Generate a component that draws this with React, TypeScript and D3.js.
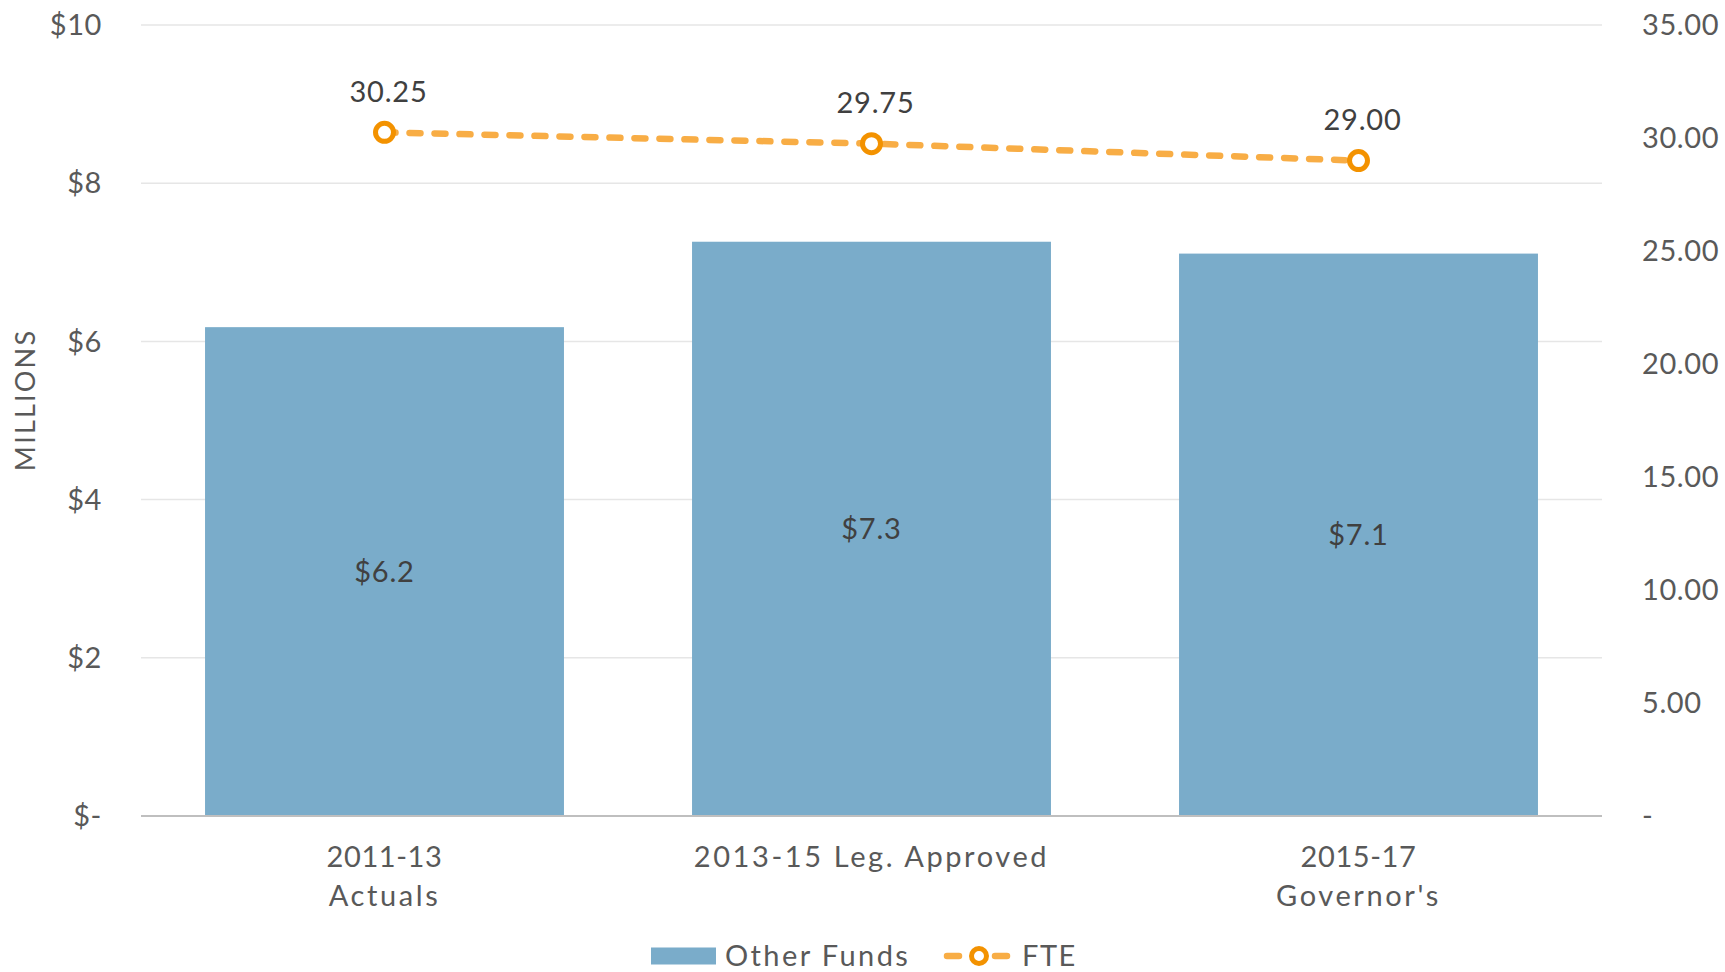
import React, { useEffect, useRef } from 'react';
import * as d3 from 'd3';

const categories = [['2011-13', 'Actuals'], ['2013-15 Leg. Approved'], ['2015-17', "Governor's"]];
const otherFunds = [6.18, 7.26, 7.11];
const fundLabels = ['$6.2', '$7.3', '$7.1'];
const fte = [30.25, 29.75, 29.0];
const leftTicks = [0, 2, 4, 6, 8, 10];
const rightTicks = [0, 5, 10, 15, 20, 25, 30, 35];

const FONT = "'Century Gothic', Lato, 'Open Sans', sans-serif";
const BAR = '#7AACCA';
const LINE = '#F8AD45';
const MARK = '#F39200';
const TEXT = '#595959';

// Lato is narrower than the original face, so words get some extra tracking
const wordSpacing = (s: string) => (/[A-Za-z]{2}/.test(s) ? '2.6px' : '0.6px');

const App: React.FC = () => {
  const svgRef = useRef<SVGSVGElement>(null);

  useEffect(() => {
    if (!svgRef.current) return;
    const W = 1725, H = 972;
    const margin = { top: 25, right: 123, bottom: 156, left: 141 };
    const width = W - margin.left - margin.right;
    const height = H - margin.top - margin.bottom;

    const svg = d3.select(svgRef.current);
    svg.selectAll('*').remove();
    svg.attr('width', W).attr('height', H).style('font-family', FONT);

    const g = svg.append('g').attr('transform', `translate(${margin.left},${margin.top})`);

    const x = d3.scaleBand<number>()
      .domain(d3.range(categories.length))
      .range([0, width])
      .paddingInner(0.263)
      .paddingOuter(0.1315);

    const y = d3.scaleLinear().domain([0, 10]).range([height, 0]);
    const y2 = d3.scaleLinear().domain([0, 35]).range([height, 0]);

    // gridlines
    g.selectAll('line.grid')
      .data(leftTicks.filter(d => d > 0))
      .enter().append('line')
      .attr('class', 'grid')
      .attr('x1', 0).attr('x2', width)
      .attr('y1', d => y(d)).attr('y2', d => y(d))
      .attr('stroke', '#E6E6E6').attr('stroke-width', 1.5);

    // left axis labels
    g.selectAll('text.yl')
      .data(leftTicks)
      .enter().append('text')
      .attr('class', 'yl')
      .attr('x', -39)
      .attr('y', d => y(d))
      .attr('dy', '0.35em')
      .attr('text-anchor', 'end')
      .attr('fill', TEXT)
      .style('font-size', '29px')
      .style('letter-spacing', '0.6px')
      .text(d => (d === 0 ? '$-' : `$${d}`));

    // right axis labels
    g.selectAll('text.yr')
      .data(rightTicks)
      .enter().append('text')
      .attr('class', 'yr')
      .attr('x', width + 40)
      .attr('y', d => y2(d))
      .attr('dy', '0.35em')
      .attr('fill', TEXT)
      .style('font-size', '29px')
      .style('letter-spacing', '0.6px')
      .text(d => (d === 0 ? '-' : d.toFixed(2)));

    // axis title
    g.append('text')
      .attr('transform', `translate(${-115},${y(5.26)}) rotate(-90)`)
      .attr('text-anchor', 'middle')
      .attr('dy', '0.35em')
      .attr('fill', TEXT)
      .style('font-size', '27px')
      .style('letter-spacing', '2.2px')
      .text('MILLIONS');

    // bars
    g.selectAll('rect.bar')
      .data(otherFunds)
      .enter().append('rect')
      .attr('class', 'bar')
      .attr('x', (_, i) => x(i)!)
      .attr('y', d => y(d))
      .attr('width', x.bandwidth())
      .attr('height', d => y(0) - y(d))
      .attr('fill', BAR);

    // baseline
    g.append('line')
      .attr('x1', 0).attr('x2', width)
      .attr('y1', y(0)).attr('y2', y(0))
      .attr('stroke', '#BFBFBF').attr('stroke-width', 2);

    // bar labels
    g.selectAll('text.bl')
      .data(otherFunds)
      .enter().append('text')
      .attr('class', 'bl')
      .attr('x', (_, i) => x(i)! + x.bandwidth() / 2)
      .attr('y', d => (y(d) + y(0)) / 2)
      .attr('dy', '0.35em')
      .attr('text-anchor', 'middle')
      .attr('fill', '#404040')
      .style('font-size', '29px')
      .style('letter-spacing', '0.8px')
      .text((_, i) => fundLabels[i]);

    // category labels
    categories.forEach((lines, i) => {
      const t = g.append('text')
        .attr('x', x(i)! + x.bandwidth() / 2)
        .attr('y', height + 41)
        .attr('dy', '0.35em')
        .attr('text-anchor', 'middle')
        .attr('fill', TEXT)
        .style('font-size', '29px');
      lines.forEach((l, j) => {
        t.append('tspan')
          .attr('x', x(i)! + x.bandwidth() / 2)
          .attr('dy', j === 0 ? '0.35em' : 39)
          .style('letter-spacing', wordSpacing(l))
          .text(l);
      });
    });

    // FTE line
    const cx = (i: number) => x(i)! + x.bandwidth() / 2;
    const line = d3.line<number>().x((_, i) => cx(i)).y(d => y2(d));
    g.append('path')
      .datum(fte)
      .attr('d', line)
      .attr('fill', 'none')
      .attr('stroke', LINE)
      .attr('stroke-width', 6.5)
      .attr('stroke-linecap', 'round')
      .attr('stroke-dasharray', '11 14');

    g.selectAll('circle.m')
      .data(fte)
      .enter().append('circle')
      .attr('class', 'm')
      .attr('cx', (_, i) => cx(i))
      .attr('cy', d => y2(d))
      .attr('r', 9)
      .attr('fill', '#fff')
      .attr('stroke', MARK)
      .attr('stroke-width', 5);

    g.selectAll('text.fl')
      .data(fte)
      .enter().append('text')
      .attr('class', 'fl')
      .attr('x', (_, i) => cx(i) + 4)
      .attr('y', d => y2(d) - 41)
      .attr('dy', '0.35em')
      .attr('text-anchor', 'middle')
      .attr('fill', '#404040')
      .style('font-size', '29px')
      .style('letter-spacing', '0.8px')
      .text(d => d.toFixed(2));

    // legend
    const lg = svg.append('g').attr('transform', `translate(0,956)`);
    lg.append('rect')
      .attr('x', 651).attr('y', -8.5).attr('width', 65).attr('height', 17)
      .attr('fill', BAR);
    lg.append('text')
      .attr('x', 725).attr('y', 0).attr('dy', '0.35em')
      .attr('fill', TEXT).style('font-size', '29px')
      .style('letter-spacing', '2.4px')
      .text('Other Funds');
    lg.append('line')
      .attr('x1', 947).attr('x2', 1007).attr('y1', 0).attr('y2', 0)
      .attr('stroke', LINE).attr('stroke-width', 6.5)
      .attr('stroke-linecap', 'round').attr('stroke-dasharray', '12 36');
    lg.append('circle')
      .attr('cx', 979).attr('cy', 0).attr('r', 7.5)
      .attr('fill', '#fff').attr('stroke', MARK).attr('stroke-width', 5);
    lg.append('text')
      .attr('x', 1022).attr('y', 0).attr('dy', '0.35em')
      .attr('fill', TEXT).style('font-size', '29px')
      .style('letter-spacing', '1.5px')
      .text('FTE');
  }, []);

  return (
    <div style={{ position: 'fixed', left: 0, top: 0, width: 1725, height: 972, background: '#fff' }}>
      <svg ref={svgRef} width={1725} height={972}></svg>
    </div>
  );
};

export default App;
